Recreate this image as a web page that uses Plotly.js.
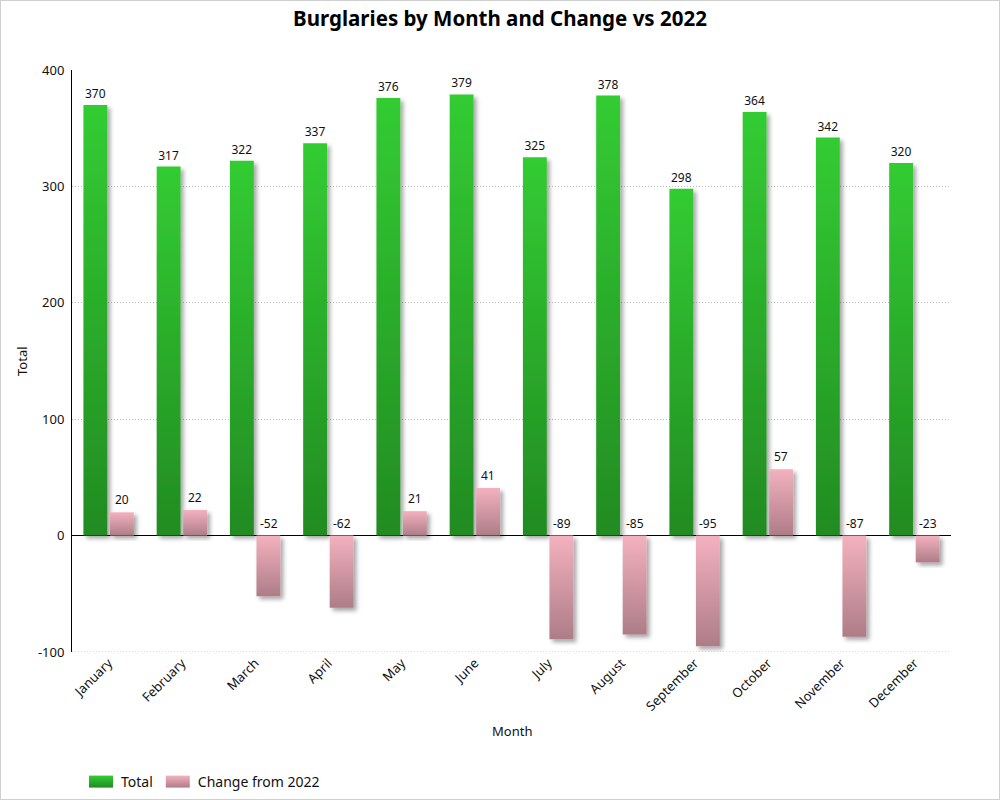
<!DOCTYPE html>
<html>
<head>
<meta charset="utf-8">
<script src="https://cdn.plot.ly/plotly-3.0.1.min.js"></script>
<style>
html,body{margin:0;padding:0;background:#fff;}
#chart{width:998px;height:798px;border:1px solid #cfcfcf;}
</style>
</head>
<body>
<div id="chart"></div>
<script>
const months = ["January","February","March","April","May","June","July","August","September","October","November","December"];
const totals = [370,317,322,337,376,379,325,378,298,364,342,320];
const changes = [20,22,-52,-62,21,41,-89,-85,-95,57,-87,-23];
const yTicks = [-100,0,100,200,300,400];

const FONT = "Noto Sans, Open Sans, sans-serif";

const traces = [
  {
    type: "bar", name: "Total", x: months, y: totals,
    text: totals.map(String), textposition: "outside", cliponaxis: false,
    textfont: {size: 12, color: "#111", family: FONT},
    marker: {color: "#2aa82a", line: {width: 0}},
    hoverinfo: "x+y"
  },
  {
    type: "bar", name: "Change from 2022", x: months, y: changes,
    marker: {color: "#d49aa6", line: {width: 0}},
    hoverinfo: "x+y"
  }
];

const annotations = months.map((m, i) => ({
  x: m, y: Math.max(changes[i], 0), xref: "x", yref: "y",
  text: String(changes[i]), showarrow: false,
  xshift: 13.5, yshift: 2, yanchor: "bottom",
  font: {size: 12, color: "#111", family: FONT}
}));
annotations.push({
  text: "Month", xref: "paper", yref: "paper", x: 0.5, y: -0.1357,
  showarrow: false, xanchor: "center", yanchor: "middle",
  font: {size: 13, color: "#111", family: FONT}
});
annotations.push({
  text: "Total", xref: "paper", yref: "paper", x: -0.0569, y: 0.5, textangle: -90,
  showarrow: false, xanchor: "center", yanchor: "middle",
  font: {size: 13, color: "#111", family: FONT}
});

const layout = {
  width: 998, height: 798,
  margin: {l: 71, r: 48, t: 69, b: 147},
  paper_bgcolor: "#fff", plot_bgcolor: "#fff",
  font: {family: FONT, size: 12, color: "#111"},
  title: {text: "<b>Burglaries by Month and Change vs 2022</b>", x: 0.5, xanchor: "center", y: 0.978, yanchor: "middle",
          font: {size: 20.5, color: "#000", family: FONT}},
  barmode: "group", bargap: 0.276, bargroupgap: 0.1,
  xaxis: {
    automargin: false,
    tickangle: -45, showgrid: false, showline: false, ticks: "",
    tickfont: {size: 13, color: "#111"}
  },
  yaxis: {
    automargin: false,
    range: [-100, 400], tickvals: yTicks, ticktext: yTicks.map(String),
    showgrid: true, gridcolor: "#bdbdbd", griddash: "1px,2px", gridwidth: 1,
    zeroline: true, zerolinecolor: "#000", zerolinewidth: 1,
    showline: true, linecolor: "#000", linewidth: 1,
    ticks: "", ticklabelstandoff: 4,
    tickfont: {size: 13, color: "#111"}
  },
  shapes: [{
    type: "line", xref: "paper", yref: "y", x0: 0, x1: 1, y0: yTicks[0], y1: yTicks[0],
    line: {color: "#bdbdbd", width: 1, dash: "1px,2px"}, layer: "below"
  }],
  legend: {orientation: "h", x: 80 / 998, xanchor: "left", xref: "container", yref: "container",
           y: 17 / 798, yanchor: "middle",
           font: {size: 14, color: "#111"}, itemwidth: 30},
  annotations: annotations,
  showlegend: true
};

Plotly.newPlot("chart", traces, layout, {displayModeBar: false, staticPlot: true}).then(() => {
  const svg = document.querySelector("#chart .main-svg");
  const ns = "http://www.w3.org/2000/svg";
  let defs = svg.querySelector("defs");
  if (!defs) { defs = document.createElementNS(ns, "defs"); svg.insertBefore(defs, svg.firstChild); }
  function grad(id, c1, c2) {
    const g = document.createElementNS(ns, "linearGradient");
    g.setAttribute("id", id); g.setAttribute("x1", "0"); g.setAttribute("y1", "0");
    g.setAttribute("x2", "0"); g.setAttribute("y2", "1");
    [[0, c1], [1, c2]].forEach(([o, c]) => {
      const s = document.createElementNS(ns, "stop");
      s.setAttribute("offset", o); s.setAttribute("stop-color", c); g.appendChild(s);
    });
    defs.appendChild(g);
  }
  grad("gGreen", "#33cc33", "#228b22");
  grad("gPink", "#f4b1bf", "#ad7d87");
  const f = document.createElementNS(ns, "filter");
  f.setAttribute("id", "shadow"); f.setAttribute("x", "-30%"); f.setAttribute("y", "-10%");
  f.setAttribute("width", "170%"); f.setAttribute("height", "130%");
  const ds = document.createElementNS(ns, "feDropShadow");
  ds.setAttribute("dx", "3"); ds.setAttribute("dy", "3"); ds.setAttribute("stdDeviation", "2");
  ds.setAttribute("flood-color", "#000"); ds.setAttribute("flood-opacity", "0.35");
  f.appendChild(ds); defs.appendChild(f);
  const ids = ["gGreen", "gPink"];
  document.querySelectorAll("#chart .barlayer .trace").forEach((t, i) => {
    t.querySelectorAll("path").forEach(p => {
      p.style.fill = "url(#" + ids[i] + ")";
      p.setAttribute("filter", "url(#shadow)");
    });
  });
  document.querySelectorAll("#chart .legend .traces").forEach((t, i) => {
    t.querySelectorAll(".legendpoints path").forEach(p => {
      p.style.fill = "url(#" + ids[i] + ")";
      p.setAttribute("d", "M-12,-6h24v12h-24z");
    });
  });
});
</script>
</body>
</html>
